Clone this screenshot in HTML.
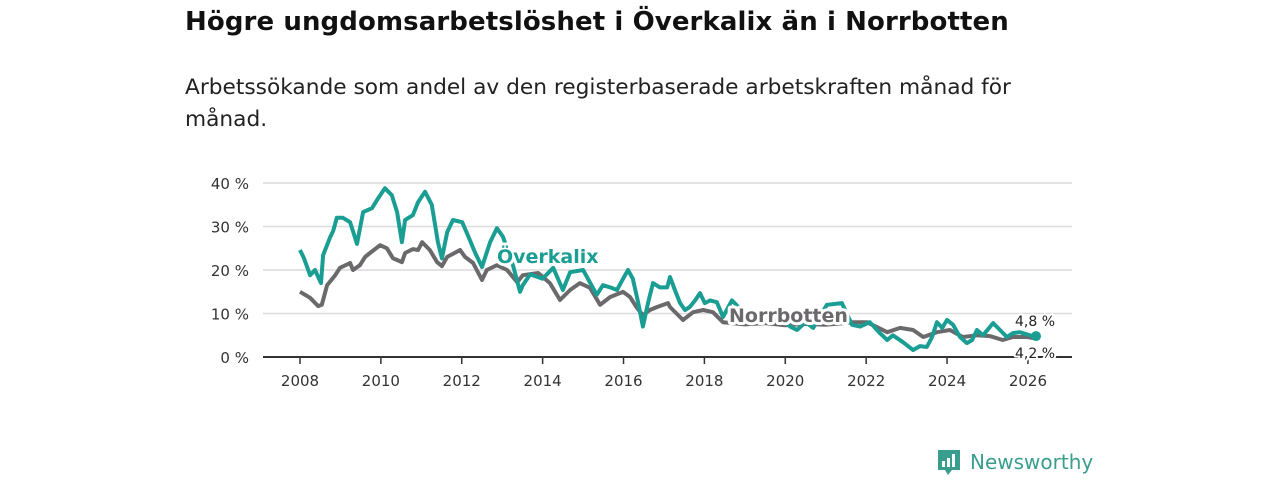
<!DOCTYPE html>
<html><head><meta charset="utf-8">
<style>
body{margin:0;background:#fff;width:1280px;height:480px;overflow:hidden;font-family:"DejaVu Sans",sans-serif;}
h1{position:absolute;left:185px;top:7px;margin:0;font-size:26px;font-weight:bold;color:#111;letter-spacing:0.1px;}
.sub{position:absolute;left:185px;top:72px;width:850px;font-size:21.7px;line-height:32px;color:#222;margin:0;}
svg{position:absolute;left:0;top:0;}
</style></head><body>
<h1>Högre ungdomsarbetslöshet i Överkalix än i Norrbotten</h1>
<p class="sub">Arbetssökande som andel av den registerbaserade arbetskraften månad för månad.</p>
<svg id="chart" width="1280" height="480"></svg>
<div style="position:absolute;left:938px;top:448px;height:28px;display:flex;align-items:center;">
<svg width="22" height="28" style="position:relative"><path d="M0 2 h22 v20 h-8 l-4 5 l-3 -5 h-7z" fill="#3a9e8f"/><rect x="4" y="13" width="3" height="6" fill="#fff"/><rect x="9" y="10" width="3" height="9" fill="#fff"/><rect x="14" y="6" width="3" height="13" fill="#fff"/></svg>
<span style="margin-left:10px;font-size:20px;color:#3a9e8f;font-family:'DejaVu Sans',sans-serif;">Newsworthy</span></div>
<script>
const tYears=[2008.0,2008.1,2008.25,2008.37,2008.52,2008.57,2008.74,2008.82,2008.91,2009.06,2009.24,2009.41,2009.56,2009.78,2009.9,2010.1,2010.27,2010.4,2010.52,2010.6,2010.79,2010.92,2011.09,2011.26,2011.41,2011.51,2011.64,2011.78,2012.01,2012.15,2012.33,2012.5,2012.7,2012.87,2013.02,2013.27,2013.44,2013.51,2013.69,2014.0,2014.26,2014.5,2014.68,2015.0,2015.34,2015.49,2015.67,2015.84,2015.99,2016.11,2016.23,2016.36,2016.48,2016.61,2016.73,2016.9,2017.08,2017.15,2017.27,2017.4,2017.52,2017.64,2017.77,2017.89,2018.01,2018.14,2018.31,2018.46,2018.68,2019.0,2019.3,2019.6,2019.9,2020.12,2020.29,2020.5,2020.69,2021.03,2021.4,2021.65,2021.85,2022.09,2022.34,2022.52,2022.66,2022.91,2023.16,2023.33,2023.5,2023.63,2023.75,2023.88,2024.0,2024.15,2024.32,2024.49,2024.62,2024.74,2024.89,2025.14,2025.31,2025.48,2025.63,2025.8,2026.05,2026.2];
const tVals=[24.6,22.7,18.8,20,17,23.4,27.4,29,32,32,31,26,33.3,34.2,36,38.8,37.2,33.3,26.4,31.5,32.6,35.6,38,35,26.4,22.7,28.7,31.5,31,28,24,20.7,26.4,29.6,27.6,21,15,16.5,19,18,20.5,15.4,19.5,20,14.3,16.5,16,15.4,18,20,18,12.6,7,12.6,17,16,16,18.4,15.4,12.4,10.8,11.5,13,14.7,12.4,13,12.6,9.2,13,10,9,8,9,7,6.2,8,6.7,12,12.4,7.4,7,8,5.5,3.9,5,3.4,1.6,2.5,2.3,4.6,8,6.7,8.5,7.4,4.6,3.2,3.9,6.2,5,7.8,6.2,4.6,5.5,5.7,5,4.8];
const nYears=[2008.0,2008.25,2008.45,2008.54,2008.67,2008.87,2008.99,2009.24,2009.31,2009.48,2009.61,2009.73,2009.98,2010.15,2010.3,2010.4,2010.52,2010.6,2010.79,2010.92,2011.02,2011.21,2011.39,2011.51,2011.64,2011.96,2012.08,2012.28,2012.5,2012.62,2012.87,2013.12,2013.37,2013.51,2013.89,2014.18,2014.43,2014.68,2014.92,2015.17,2015.42,2015.67,2015.99,2016.16,2016.33,2016.48,2016.65,2016.83,2017.1,2017.15,2017.47,2017.72,2017.97,2018.21,2018.46,2019.0,2019.5,2020.0,2020.5,2021.0,2021.67,2022.02,2022.52,2022.84,2023.16,2023.41,2023.75,2024.07,2024.39,2024.74,2025.06,2025.38,2025.63,2025.98,2026.22];
const nVals=[15,13.6,11.7,12,16.5,18.8,20.5,21.6,20,21.1,23,23.9,25.7,25,22.7,22.3,21.8,23.9,24.8,24.6,26.4,24.6,21.8,20.9,23,24.6,23,21.6,17.7,20,21.1,20,17.2,18.8,19.3,17,13.1,15.4,17,15.9,12,13.8,15,13.8,11.3,9.6,10.8,11.5,12.4,11.5,8.5,10.3,10.8,10.3,8,7.5,7.8,7.3,7.6,7.4,8,8,5.7,6.7,6.2,4.6,5.7,6.2,4.6,5,4.8,3.9,4.6,4.6,4.2];
const yTicks=[0,10,20,30,40];
const xTicks=[2008,2010,2012,2014,2016,2018,2020,2022,2024,2026];
const NS="http://www.w3.org/2000/svg";
const svg=document.getElementById('chart');
const FF='DejaVu Sans, sans-serif';
const X=y=>300+(y-2008)*40.44;
const Y=v=>357-v*4.35;
function mk(t,a){const e=document.createElementNS(NS,t);for(const k in a)e.setAttribute(k,a[k]);svg.appendChild(e);return e;}
yTicks.forEach(v=>{
  if(v>0){const g=mk('line',{x1:263,x2:1072,y1:Y(v),y2:Y(v),stroke:'#dcdcdc','stroke-width':1.5});
  
  }
  const t=mk('text',{x:249,y:Y(v)+6,'text-anchor':'end','font-size':15,fill:'#333','font-family':FF});
  t.textContent=v+' %';
  
  
});
xTicks.forEach(v=>{
  const l=mk('line',{x1:X(v),x2:X(v),y1:357,y2:364,stroke:'#333','stroke-width':1.5});
  
  
  const t=mk('text',{x:X(v),y:386,'text-anchor':'middle','font-size':15,fill:'#333','font-family':FF});
  t.textContent=v;
  
  
});
function line(xs,vs,col,name){
  const d=xs.map((x,i)=>(i?'L':'M')+X(x).toFixed(1)+' '+Y(vs[i]).toFixed(1)).join(' ');
  const p=mk('path',{d:d,fill:'none',stroke:col,'stroke-width':4,'stroke-linejoin':'round'});
  
  
}
line(nYears,nVals,'#6b696c','norrbotten-line');
line(tYears,tVals,'#1a9e93','overkalix-line');
const dot=mk('circle',{cx:X(tYears[tYears.length-1]),cy:Y(tVals[tVals.length-1]),r:5,fill:'#1a9e93'});


const base=mk('line',{x1:263,x2:1072,y1:357,y2:357,stroke:'#333','stroke-width':2});


function lab(x,y,txt,col,name,sz,bold){
  const t=mk('text',{x:x,y:y,fill:col,'font-size':sz,'font-weight':bold?'bold':'normal',stroke:'#fff','stroke-width':bold?6:4,'paint-order':'stroke','stroke-linejoin':'round','font-family':FF});
  t.textContent=txt;
  
  
}
lab(497,263,'Överkalix','#1a9e93','overkalix-label',19,true);
lab(729,322,'Norrbotten','#6b696c','norrbotten-label',19,true);
lab(1015,326,'4,8 %','#222','overkalix-end-value',14,false);
lab(1015,358,'4,2 %','#222','norrbotten-end-value',14,false);
</script>
</body></html>
